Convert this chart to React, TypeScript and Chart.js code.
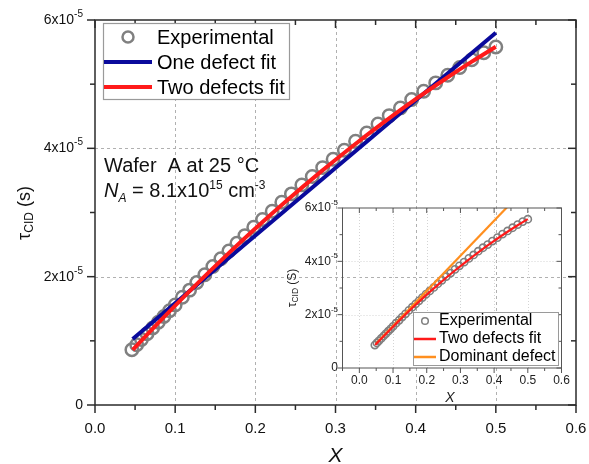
import { useEffect, useRef } from 'react';
import { Chart, registerables } from 'chart.js';
Chart.register(...registerables);

const FONT = '"Liberation Sans", Arial, sans-serif';

// values in units of 1e-5 s
const expX = [0.046, 0.052, 0.058, 0.065, 0.072, 0.079, 0.086, 0.093, 0.100, 0.109, 0.118, 0.127, 0.137, 0.147, 0.157, 0.167, 0.177, 0.187, 0.198, 0.209, 0.221, 0.233, 0.245, 0.258, 0.271, 0.284, 0.297, 0.311, 0.325, 0.339, 0.353, 0.367, 0.381, 0.395, 0.410, 0.425, 0.440, 0.455, 0.470, 0.485, 0.500];
const expY = [0.86, 0.94, 1.02, 1.11, 1.20, 1.29, 1.38, 1.47, 1.56, 1.68, 1.79, 1.91, 2.03, 2.16, 2.28, 2.40, 2.52, 2.64, 2.77, 2.89, 3.02, 3.16, 3.29, 3.43, 3.56, 3.70, 3.83, 3.97, 4.11, 4.24, 4.38, 4.51, 4.63, 4.76, 4.89, 5.02, 5.14, 5.26, 5.38, 5.49, 5.58];
const oneFitX = [0.047, 0.5];
const oneFitY = [1.03, 5.8];
const twoFitX = [0.047, 0.07, 0.1, 0.13, 0.16, 0.2, 0.24, 0.28, 0.32, 0.36, 0.4, 0.44, 0.47, 0.5];
const twoFitY = [0.861, 1.164, 1.549, 1.923, 2.285, 2.75, 3.194, 3.618, 4.021, 4.404, 4.766, 5.108, 5.351, 5.583];
const domX = [0.05, 0.44];
const domY = [0.92, 6.05];

const mainXTicks = [0, 0.1, 0.2, 0.3, 0.4, 0.5, 0.6];
const mainXMinor = [0.05, 0.15, 0.25, 0.35, 0.45, 0.55];
const mainXGrid = [0.1, 0.2, 0.3, 0.4, 0.5];
const mainYTicks = [0, 2, 4, 6];
const mainYMinor = [1, 3, 5];
const mainYGrid = [2, 4];
const insetXTicks = [0, 0.1, 0.2, 0.3, 0.4, 0.5, 0.6];
const insetXMinor = [-0.05, 0.05, 0.15, 0.25, 0.35, 0.45, 0.55];
const insetXGrid = [0, 0.1, 0.2, 0.3, 0.4, 0.5];
const insetYTicks = [0, 2, 4, 6];
const insetYMinor = [1, 3, 5];
const insetYGrid = [2, 4];
const yExponent = '-5';

const GRAY = '#808080';
const RED = '#ff1a1a';
const BLUE = '#0a0a9c';
const ORANGE = '#ff8f1f';

type Run = { t: string; s: number; it?: boolean; dy?: number };
const fnt = (s: number, it?: boolean) => `${it ? 'italic ' : ''}${s}px ${FONT}`;
function runsWidth(ctx: CanvasRenderingContext2D, runs: Run[]) {
  let w = 0;
  for (const r of runs) { ctx.font = fnt(r.s, r.it); w += ctx.measureText(r.t).width; }
  return w;
}
function drawRuns(ctx: CanvasRenderingContext2D, runs: Run[], x: number, y: number, align: 'left' | 'center' | 'right') {
  const w = runsWidth(ctx, runs);
  let cx = align === 'left' ? x : align === 'center' ? x - w / 2 : x - w;
  ctx.textAlign = 'left';
  for (const r of runs) {
    ctx.font = fnt(r.s, r.it);
    ctx.fillText(r.t, cx, y + (r.dy || 0));
    cx += ctx.measureText(r.t).width;
  }
}
function sci(v: number, main: number, sup: number): Run[] {
  if (v === 0) return [{ t: '0', s: main }];
  return [{ t: `${v}x10`, s: main }, { t: yExponent, s: sup, dy: -main * 0.42 }];
}
const pts = (xs: number[], ys: number[]) => xs.map((x, i) => ({ x, y: ys[i] }));

function line(ctx: CanvasRenderingContext2D, x1: number, y1: number, x2: number, y2: number) {
  ctx.beginPath(); ctx.moveTo(x1, y1); ctx.lineTo(x2, y2); ctx.stroke();
}

function drawFrame(chart: any, opt: { color: string; lw: number; maj: number; min: number; xT: number[]; xM: number[]; yT: number[]; yM: number[] }) {
  const { ctx, chartArea: a, scales: { x, y } } = chart;
  ctx.save();
  ctx.strokeStyle = opt.color; ctx.lineWidth = opt.lw; ctx.setLineDash([]);
  ctx.strokeRect(a.left, a.top, a.right - a.left, a.bottom - a.top);
  const tick = (vals: number[], len: number) => {
    for (const v of vals) {
      const px = x.getPixelForValue(v);
      line(ctx, px, a.bottom, px, a.bottom + len);
      line(ctx, px, a.top, px, a.top + len);
    }
  };
  const ytick = (vals: number[], len: number) => {
    for (const v of vals) {
      const py = y.getPixelForValue(v);
      line(ctx, a.left, py, a.left - len, py);
      line(ctx, a.right, py, a.right - len, py);
    }
  };
  tick(opt.xT, opt.maj); tick(opt.xM, opt.min);
  ytick(opt.yT, opt.maj); ytick(opt.yM, opt.min);
  ctx.restore();
}

function drawGrid(chart: any, xs: number[], ys: number[], color: string, dash: number[]) {
  const { ctx, chartArea: a, scales: { x, y } } = chart;
  ctx.save();
  ctx.strokeStyle = color; ctx.lineWidth = 1; ctx.setLineDash(dash);
  for (const v of xs) { const px = Math.round(x.getPixelForValue(v)) + 0.5; line(ctx, px, a.top, px, a.bottom); }
  for (const v of ys) { const py = Math.round(y.getPixelForValue(v)) + 0.5; line(ctx, a.left, py, a.right, py); }
  ctx.restore();
}

const mainDeco = {
  id: 'mainDeco',
  beforeDatasetsDraw(chart: any) {
    drawGrid(chart, mainXGrid, mainYGrid, '#b0b0b0', [3, 3]);
  },
  afterDatasetsDraw(chart: any) {
    const { ctx, chartArea: a, scales: { x, y } } = chart;
    drawFrame(chart, { color: '#2b2b2b', lw: 1.5, maj: 8, min: 5, xT: mainXTicks, xM: mainXMinor, yT: mainYTicks, yM: mainYMinor });
    ctx.save();
    ctx.fillStyle = '#111';
    ctx.textBaseline = 'alphabetic';
    for (const v of mainXTicks) {
      drawRuns(ctx, [{ t: v.toFixed(1), s: 15 }], x.getPixelForValue(v), 433, 'center');
    }
    ctx.textBaseline = 'middle';
    for (const v of mainYTicks) {
      drawRuns(ctx, sci(v, 14, 10), 83, y.getPixelForValue(v), 'right');
    }
    // axis titles
    ctx.textBaseline = 'alphabetic';
    drawRuns(ctx, [{ t: 'X', s: 21, it: true }], (a.left + a.right) / 2, 462, 'center');
    ctx.save();
    ctx.translate(25, 213);
    ctx.rotate(-Math.PI / 2);
    ctx.textBaseline = 'middle';
    drawRuns(ctx, [{ t: 'τ', s: 18 }, { t: 'CID', s: 12, dy: 5 }, { t: ' (s)', s: 18 }], 0, 0, 'center');
    ctx.restore();
    // annotation
    ctx.textBaseline = 'alphabetic';
    drawRuns(ctx, [{ t: 'Wafer  A at 25 °C', s: 20 }], 104, 172, 'left');
    drawRuns(ctx, [
      { t: 'N', s: 20, it: true }, { t: 'A', s: 12, it: true, dy: 5 },
      { t: ' = 8.1x10', s: 20 }, { t: '15', s: 12, dy: -8 },
      { t: ' cm', s: 20 }, { t: '-3', s: 12, dy: -8 },
    ], 104, 197, 'left');
    // legend
    ctx.fillStyle = '#fff';
    ctx.fillRect(103, 23, 186, 76);
    ctx.strokeStyle = '#9a9a9a'; ctx.lineWidth = 1.2;
    ctx.strokeRect(103.5, 23.5, 186, 76);
    ctx.strokeStyle = GRAY; ctx.lineWidth = 2.5;
    ctx.beginPath(); ctx.arc(128, 37, 5.5, 0, Math.PI * 2); ctx.stroke();
    ctx.lineWidth = 4;
    ctx.strokeStyle = BLUE; line(ctx, 104, 62, 152, 62);
    ctx.strokeStyle = RED; line(ctx, 104, 87, 152, 87);
    ctx.fillStyle = '#000';
    ctx.textBaseline = 'middle';
    drawRuns(ctx, [{ t: 'Experimental', s: 20 }], 157, 38, 'left');
    drawRuns(ctx, [{ t: 'One defect fit', s: 20 }], 157, 63, 'left');
    drawRuns(ctx, [{ t: 'Two defects fit', s: 20 }], 157, 88, 'left');
    ctx.restore();
  },
};

const insetDeco = {
  id: 'insetDeco',
  beforeDatasetsDraw(chart: any) {
    drawGrid(chart, insetXGrid, insetYGrid, '#d4d4d4', [1, 2]);
  },
  afterDatasetsDraw(chart: any) {
    const { ctx, chartArea: a, scales: { x, y } } = chart;
    drawFrame(chart, { color: '#555', lw: 1, maj: 5, min: 3, xT: insetXTicks, xM: insetXMinor, yT: insetYTicks, yM: insetYMinor });
    ctx.save();
    ctx.fillStyle = '#222';
    ctx.textBaseline = 'alphabetic';
    for (const v of insetXTicks) {
      drawRuns(ctx, [{ t: v.toFixed(1), s: 12 }], x.getPixelForValue(v), 384, 'center');
    }
    ctx.textBaseline = 'middle';
    for (const v of insetYTicks) {
      drawRuns(ctx, sci(v, 12, 8), 338, y.getPixelForValue(v), 'right');
    }
    ctx.textBaseline = 'alphabetic';
    drawRuns(ctx, [{ t: 'X', s: 14, it: true }], 450, 402, 'center');
    ctx.save();
    ctx.translate(293, 288);
    ctx.rotate(-Math.PI / 2);
    ctx.textBaseline = 'middle';
    drawRuns(ctx, [{ t: 'τ', s: 12 }, { t: 'CID', s: 8.5, dy: 3 }, { t: ' (S)', s: 12 }], 0, 0, 'center');
    ctx.restore();
    // legend
    ctx.fillStyle = '#fff';
    ctx.fillRect(413, 312, 145, 53);
    ctx.strokeStyle = '#9a9a9a'; ctx.lineWidth = 1;
    ctx.strokeRect(413.5, 312.5, 145, 53);
    ctx.strokeStyle = GRAY; ctx.lineWidth = 1.5;
    ctx.beginPath(); ctx.arc(425, 321, 3.3, 0, Math.PI * 2); ctx.stroke();
    ctx.lineWidth = 2.5;
    ctx.strokeStyle = RED; line(ctx, 414, 339, 436, 339);
    ctx.strokeStyle = ORANGE; line(ctx, 414, 357, 436, 357);
    ctx.fillStyle = '#000';
    ctx.textBaseline = 'middle';
    drawRuns(ctx, [{ t: 'Experimental', s: 16 }], 439, 321, 'left');
    drawRuns(ctx, [{ t: 'Two defects fit', s: 16 }], 439, 339, 'left');
    drawRuns(ctx, [{ t: 'Dominant defect', s: 16 }], 439, 357, 'left');
    ctx.restore();
  },
};

function scalesCfg(xmin: number, xmax: number, ymin: number, ymax: number, yw: number, xh: number) {
  return {
    x: {
      type: 'linear', min: xmin, max: xmax,
      ticks: { display: false }, grid: { display: false }, border: { display: false },
      afterFit: (s: any) => { s.height = xh; },
    },
    y: {
      type: 'linear', min: ymin, max: ymax,
      ticks: { display: false }, grid: { display: false }, border: { display: false },
      afterFit: (s: any) => { s.width = yw; },
    },
  };
}

export default function App() {
  const mainRef = useRef<HTMLCanvasElement>(null);
  const insetRef = useRef<HTMLCanvasElement>(null);
  useEffect(() => {
    const main = new Chart(mainRef.current as HTMLCanvasElement, {
      type: 'scatter',
      data: {
        datasets: [
          {
            label: 'Two defects fit', data: pts(twoFitX, twoFitY), showLine: true,
            borderColor: RED, borderWidth: 4, pointRadius: 0, cubicInterpolationMode: 'monotone', order: 0,
          },
          {
            label: 'One defect fit', data: pts(oneFitX, oneFitY), showLine: true,
            borderColor: BLUE, borderWidth: 4, pointRadius: 0, order: 1,
          },
          {
            label: 'Experimental', data: pts(expX, expY), showLine: false,
            pointRadius: 6.2, pointBorderWidth: 2.5, pointBorderColor: GRAY,
            pointBackgroundColor: 'rgba(0,0,0,0)', order: 2,
          },
        ],
      } as any,
      options: {
        responsive: false, animation: false, devicePixelRatio: 1,
        layout: { padding: { left: 0, right: 13, top: 20, bottom: 0 } },
        plugins: { legend: { display: false }, tooltip: { enabled: false } },
        scales: scalesCfg(0, 0.6, 0, 6, 95, 59) as any,
      },
      plugins: [mainDeco],
    });
    const inset = new Chart(insetRef.current as HTMLCanvasElement, {
      type: 'scatter',
      data: {
        datasets: [
          {
            label: 'Two defects fit', data: pts(twoFitX, twoFitY), showLine: true,
            borderColor: RED, borderWidth: 2.2, pointRadius: 0, cubicInterpolationMode: 'monotone', order: 0,
          },
          {
            label: 'Dominant defect', data: pts(domX, domY), showLine: true,
            borderColor: ORANGE, borderWidth: 2.2, pointRadius: 0, order: 1,
          },
          {
            label: 'Experimental', data: pts(expX, expY), showLine: false,
            pointRadius: 3.6, pointBorderWidth: 1.6, pointBorderColor: GRAY,
            pointBackgroundColor: 'rgba(0,0,0,0)', order: 2,
          },
        ],
      } as any,
      options: {
        responsive: false, animation: false, devicePixelRatio: 1,
        layout: { padding: { left: 0, right: 27.5, top: 208, bottom: 0 } },
        plugins: { legend: { display: false }, tooltip: { enabled: false } },
        scales: scalesCfg(-0.05, 0.6, 0, 6, 342.5, 96) as any,
      },
      plugins: [insetDeco],
    });
    return () => { main.destroy(); inset.destroy(); };
  }, []);
  return (
    <div style={{ position: 'fixed', left: 0, top: 0, width: 589, height: 464, background: '#fff' }}>
      <canvas ref={mainRef} width={589} height={464} style={{ position: 'absolute', left: 0, top: 0, width: 589, height: 464 }} />
      <canvas ref={insetRef} width={589} height={464} style={{ position: 'absolute', left: 0, top: 0, width: 589, height: 464 }} />
    </div>
  );
}
